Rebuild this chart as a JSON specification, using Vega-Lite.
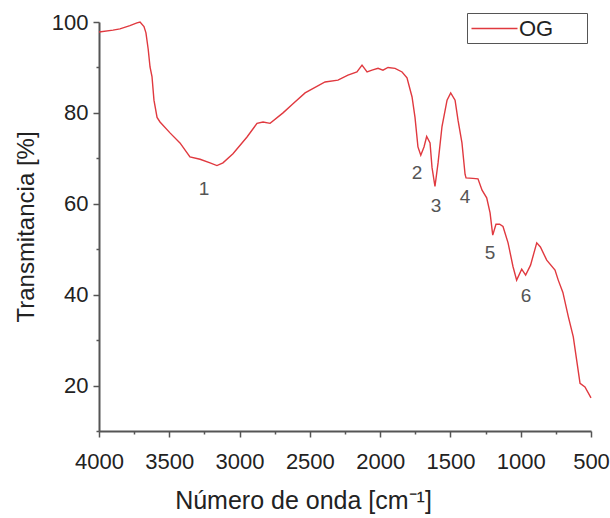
{
  "$schema": "https://vega.github.io/schema/vega-lite/v6.json",
  "autosize": {"type": "none"},
  "width": 492,
  "height": 409,
  "padding": {"left": 99, "top": 22, "right": 19, "bottom": 87},
  "background": "white",
  "config": {
    "view": {"stroke": null},
    "font": "Liberation Sans",
    "axis": {"grid": false, "labelFont": "Liberation Sans", "titleFont": "Liberation Sans"}
  },
  "datasets": {
    "spectrum": [
      {"wn": 4000, "t": 97.8, "series": "OG"},
      {"wn": 3900, "t": 98.2, "series": "OG"},
      {"wn": 3851, "t": 98.5, "series": "OG"},
      {"wn": 3780, "t": 99.2, "series": "OG"},
      {"wn": 3730, "t": 99.8, "series": "OG"},
      {"wn": 3708, "t": 100, "series": "OG"},
      {"wn": 3680, "t": 99, "series": "OG"},
      {"wn": 3666, "t": 97.6, "series": "OG"},
      {"wn": 3650, "t": 94, "series": "OG"},
      {"wn": 3637, "t": 90.1, "series": "OG"},
      {"wn": 3623, "t": 88, "series": "OG"},
      {"wn": 3609, "t": 82.8, "series": "OG"},
      {"wn": 3587, "t": 79, "series": "OG"},
      {"wn": 3566, "t": 78, "series": "OG"},
      {"wn": 3495, "t": 75.6, "series": "OG"},
      {"wn": 3424, "t": 73.4, "series": "OG"},
      {"wn": 3353, "t": 70.3, "series": "OG"},
      {"wn": 3281, "t": 69.8, "series": "OG"},
      {"wn": 3210, "t": 69, "series": "OG"},
      {"wn": 3161, "t": 68.4, "series": "OG"},
      {"wn": 3118, "t": 69, "series": "OG"},
      {"wn": 3047, "t": 71, "series": "OG"},
      {"wn": 2947, "t": 74.7, "series": "OG"},
      {"wn": 2876, "t": 77.7, "series": "OG"},
      {"wn": 2833, "t": 78, "series": "OG"},
      {"wn": 2783, "t": 77.7, "series": "OG"},
      {"wn": 2691, "t": 80, "series": "OG"},
      {"wn": 2620, "t": 82, "series": "OG"},
      {"wn": 2534, "t": 84.4, "series": "OG"},
      {"wn": 2392, "t": 86.8, "series": "OG"},
      {"wn": 2300, "t": 87.2, "series": "OG"},
      {"wn": 2229, "t": 88.3, "series": "OG"},
      {"wn": 2165, "t": 89, "series": "OG"},
      {"wn": 2129, "t": 90.5, "series": "OG"},
      {"wn": 2093, "t": 89, "series": "OG"},
      {"wn": 2058, "t": 89.4, "series": "OG"},
      {"wn": 2015, "t": 89.8, "series": "OG"},
      {"wn": 1980, "t": 89.4, "series": "OG"},
      {"wn": 1944, "t": 90, "series": "OG"},
      {"wn": 1894, "t": 89.8, "series": "OG"},
      {"wn": 1844, "t": 89, "series": "OG"},
      {"wn": 1809, "t": 87.7, "series": "OG"},
      {"wn": 1773, "t": 83.5, "series": "OG"},
      {"wn": 1752, "t": 79, "series": "OG"},
      {"wn": 1731, "t": 72.5, "series": "OG"},
      {"wn": 1711, "t": 70.7, "series": "OG"},
      {"wn": 1688, "t": 72.5, "series": "OG"},
      {"wn": 1669, "t": 74.8, "series": "OG"},
      {"wn": 1645, "t": 73.4, "series": "OG"},
      {"wn": 1631, "t": 68, "series": "OG"},
      {"wn": 1610, "t": 63.8, "series": "OG"},
      {"wn": 1588, "t": 69, "series": "OG"},
      {"wn": 1560, "t": 77, "series": "OG"},
      {"wn": 1524, "t": 82.8, "series": "OG"},
      {"wn": 1498, "t": 84.4, "series": "OG"},
      {"wn": 1467, "t": 82.8, "series": "OG"},
      {"wn": 1446, "t": 78.4, "series": "OG"},
      {"wn": 1418, "t": 73.4, "series": "OG"},
      {"wn": 1396, "t": 66.5, "series": "OG"},
      {"wn": 1389, "t": 65.7, "series": "OG"},
      {"wn": 1340, "t": 65.6, "series": "OG"},
      {"wn": 1304, "t": 65.5, "series": "OG"},
      {"wn": 1275, "t": 63, "series": "OG"},
      {"wn": 1242, "t": 61.3, "series": "OG"},
      {"wn": 1218, "t": 58, "series": "OG"},
      {"wn": 1199, "t": 53.1, "series": "OG"},
      {"wn": 1176, "t": 55.5, "series": "OG"},
      {"wn": 1150, "t": 55.5, "series": "OG"},
      {"wn": 1126, "t": 55, "series": "OG"},
      {"wn": 1090, "t": 51.4, "series": "OG"},
      {"wn": 1055, "t": 46.2, "series": "OG"},
      {"wn": 1029, "t": 43.2, "series": "OG"},
      {"wn": 993, "t": 45.6, "series": "OG"},
      {"wn": 965, "t": 44.3, "series": "OG"},
      {"wn": 930, "t": 46.5, "series": "OG"},
      {"wn": 886, "t": 51.4, "series": "OG"},
      {"wn": 860, "t": 50.5, "series": "OG"},
      {"wn": 815, "t": 47.6, "series": "OG"},
      {"wn": 756, "t": 45.4, "series": "OG"},
      {"wn": 733, "t": 43.2, "series": "OG"},
      {"wn": 700, "t": 40.5, "series": "OG"},
      {"wn": 661, "t": 35.1, "series": "OG"},
      {"wn": 626, "t": 30.7, "series": "OG"},
      {"wn": 602, "t": 25.6, "series": "OG"},
      {"wn": 578, "t": 20.5, "series": "OG"},
      {"wn": 543, "t": 19.7, "series": "OG"},
      {"wn": 500, "t": 17.3, "series": "OG"}
    ],
    "peaks": [
      {"wn": 3253, "t": 63.2, "label": "1"},
      {"wn": 1738, "t": 66.8, "label": "2"},
      {"wn": 1603, "t": 59.5, "label": "3"},
      {"wn": 1396, "t": 61.5, "label": "4"},
      {"wn": 1218, "t": 49.2, "label": "5"},
      {"wn": 962, "t": 39.7, "label": "6"}
    ]
  },
  "layer": [
    {
      "data": {"name": "spectrum"},
      "mark": {"type": "line", "strokeWidth": 1.4, "interpolate": "linear"},
      "encoding": {
        "x": {
          "field": "wn", "type": "quantitative",
          "scale": {"domain": [500, 4000], "reverse": true, "nice": false, "zero": false},
          "axis": {
            "orient": "bottom",
            "values": [500, 1000, 1500, 2000, 2500, 3000, 3500, 4000],
            "format": "d",
            "tickSize": 6, "tickWidth": 1.5, "tickColor": "#555",
            "domainColor": "#555", "domainWidth": 2,
            "labelFontSize": 22, "labelColor": "#222", "labelPadding": 14,
            "labelFlush": false, "labelOverlap": false,
            "title": "Número de onda [cm⁻¹]",
            "titleFontSize": 25, "titleFontWeight": "normal", "titleColor": "#222",
            "titleX": 204, "titleY": 77, "titleBaseline": "alphabetic", "titleAlign": "center"
          }
        },
        "y": {
          "field": "t", "type": "quantitative",
          "scale": {"domain": [10, 100], "nice": false, "zero": false},
          "axis": {
            "orient": "left",
            "values": [20, 40, 60, 80, 100],
            "tickSize": 6, "tickWidth": 1.5, "tickColor": "#555",
            "domainColor": "#555", "domainWidth": 2,
            "labelFontSize": 22, "labelColor": "#222", "labelPadding": 5,
            "labelFlush": false, "labelOverlap": false,
            "title": "Transmitancia [%]",
            "titleFontSize": 24, "titleFontWeight": "normal", "titleColor": "#222",
            "titleX": -73, "titleBaseline": "middle"
          }
        },
        "color": {
          "field": "series", "type": "nominal",
          "scale": {"domain": ["OG"], "range": ["#e0393f"]},
          "legend": {
            "orient": "none", "legendX": 368, "legendY": -9,
            "title": null,
            "symbolType": "M-2,0H2", "symbolSize": 529, "symbolStrokeWidth": 1.5,
            "symbolOffset": 12,
            "labelFontSize": 22, "labelColor": "#222", "labelOffset": 12,
            "labelExpr": "datum.label + '     \u200b'",
            "strokeColor": "#555", "padding": 3
          }
        }
      }
    },
    {
      "data": {"name": "peaks"},
      "mark": {"type": "text", "fontSize": 19, "color": "#555", "align": "center", "baseline": "middle"},
      "encoding": {
        "x": {
          "field": "wn", "type": "quantitative",
          "axis": {
            "orient": "bottom",
            "values": [750, 1250, 1750, 2250, 2750, 3250, 3750],
            "labels": false, "domain": false, "title": null,
            "tickSize": 3, "tickWidth": 1.5, "tickColor": "#555"
          }
        },
        "y": {
          "field": "t", "type": "quantitative",
          "axis": {
            "orient": "left",
            "values": [10, 30, 50, 70, 90],
            "labels": false, "domain": false, "title": null,
            "tickSize": 3, "tickWidth": 1.5, "tickColor": "#555"
          }
        },
        "text": {"field": "label", "type": "nominal"}
      }
    }
  ],
  "resolve": {"axis": {"x": "independent", "y": "independent"}}
}
